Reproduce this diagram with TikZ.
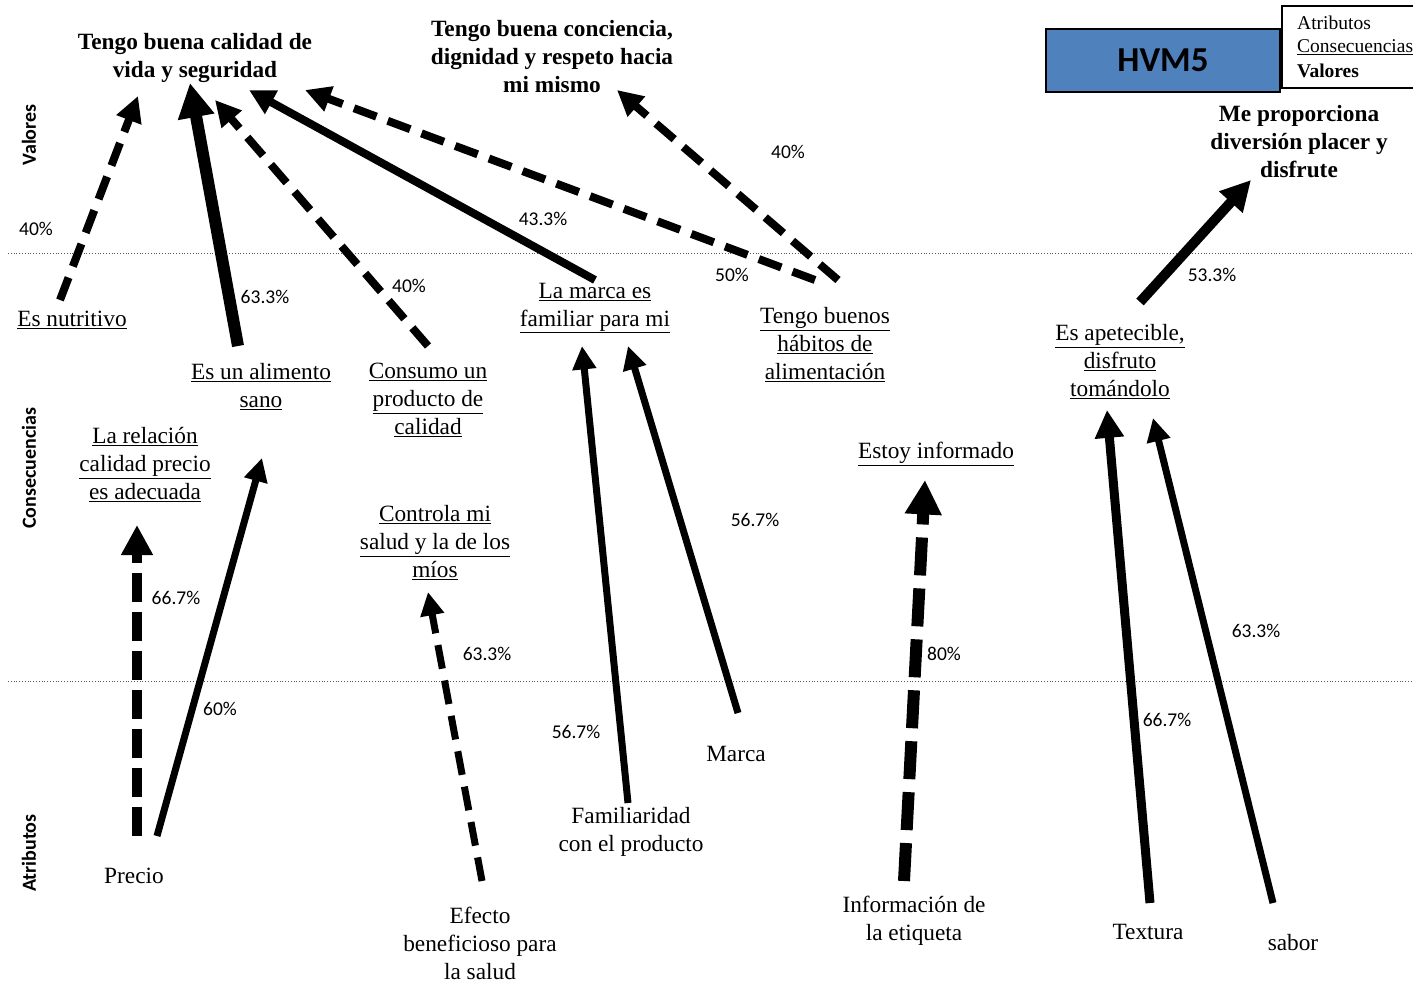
\documentclass[tikz,border=0pt]{standalone}
\usepackage{fontspec}
\setmainfont{Liberation Serif}
\newfontfamily\calib{Carlito}
\usetikzlibrary{arrows.meta}
\definecolor{hvmblue}{RGB}{79,129,189}

\begin{document}
\begin{tikzpicture}[x=1pt,y=-1pt,
  txt/.style={align=center,font=\fontsize{23.3}{28}\selectfont,inner sep=0pt},
  val/.style={align=center,font=\bfseries\fontsize{23.3}{28}\selectfont,inner sep=0pt},
  pct/.style={font=\calib\fontsize{19.5}{22}\selectfont,inner sep=0pt},
  lvl/.style={font=\calib\bfseries\fontsize{20}{22}\selectfont,rotate=90,inner sep=0pt},
  link/.style={line width=#1pt,line cap=butt,-{Triangle[length=8pt 2.2,width=6pt 2.4]}},
  dlink/.style={link=#1,dash pattern=on 24pt off 12pt},
  level/.style={line width=0.8pt,dotted,gray!70!black}
]
\useasboundingbox (0,0) rectangle (1413,982);

% level separators
\coordinate (sepA-l) at (8,253);
\coordinate (sepA-r) at (1413,253);
\coordinate (sepB-l) at (8,681);
\coordinate (sepB-r) at (1413,681);
\draw[level] (sepA-l) -- (sepA-r);
\draw[level] (sepB-l) -- (sepB-r);

% level names
\node[lvl] (lv-val) at (29,135) {Valores};
\node[lvl] (lv-con) at (29,468) {Consecuencias};
\node[lvl] (lv-atr) at (29,853) {Atributos};

% title and legend
\node[draw=black,line width=1.5pt,fill=hvmblue,minimum width=234pt,minimum height=63pt,
      font=\calib\bfseries\fontsize{35}{38}\selectfont,inner sep=0pt] (title) at (1163,60.5) {HVM5};
\draw[line width=1.5pt] (1282,6) rectangle (1430,88);
\node[anchor=west,inner sep=0pt,font=\fontsize{19.5}{24}\selectfont] (lg-a) at (1297,23) {Atributos};
\node[anchor=west,inner sep=0pt,font=\fontsize{19.5}{24}\selectfont] (lg-c) at (1297,47) {\underline{Consecuencias}};
\node[anchor=west,inner sep=0pt,font=\bfseries\fontsize{19.5}{24}\selectfont] (lg-v) at (1297,71) {Valores};

% values
\node[val] (v1) at (195,58) {Tengo buena calidad de\\vida y seguridad};
\node[val] (v2) at (552,57) {Tengo buena conciencia,\\dignidad y respeto hacia\\mi mismo};
\node[val] (v3) at (1299,142) {Me proporciona\\diversión placer y\\disfrute};

% consequences
\node[txt] (nutri) at (72,320) {\underline{Es nutritivo}};
\node[txt] (sano) at (261,387) {\underline{Es un alimento}\\\underline{sano}};
\node[txt] (consumo) at (428,400) {\underline{Consumo un}\\\underline{producto de}\\\underline{calidad}};
\node[txt] (famil) at (595,308) {\underline{La marca es}\\\underline{familiar para mi}};
\node[txt] (habitos) at (825,345) {\underline{Tengo buenos}\\\underline{hábitos de}\\\underline{alimentación}};
\node[txt] (apet) at (1120,362) {\underline{Es apetecible,}\\\underline{disfruto}\\\underline{tomándolo}};
\node[txt] (relacion) at (145,465) {\underline{La relación}\\\underline{calidad precio}\\\underline{es adecuada}};
\node[txt] (controla) at (435,543) {\underline{Controla mi}\\\underline{salud y la de los}\\\underline{míos}};
\node[txt] (informado) at (936,454) {\underline{Estoy informado}};

% attributes
\node[txt] (precio) at (134,876) {Precio};
\node[txt] (efecto) at (480,943) {Efecto\\beneficioso para\\la salud};
\node[txt] (familiaridad) at (631,832) {Familiaridad\\con el producto};
\node[txt] (marca) at (736,754) {Marca};
\node[txt] (info) at (914,921) {Información de\\la etiqueta};
\node[txt] (textura) at (1148,932) {Textura};
\node[txt] (sabor) at (1293,943) {sabor};

% connector ends
\coordinate (nutri-o) at (60,300);     \coordinate (v1-a) at (138,96);
\coordinate (sano-o) at (238,346);     \coordinate (v1-b) at (190,83);
\coordinate (consumo-o) at (428,346);  \coordinate (v1-c) at (215,100);
\coordinate (famil-o) at (595,280);    \coordinate (v1-d) at (249,90);
\coordinate (habitos-o1) at (815,280); \coordinate (v1-e) at (305,90);
\coordinate (habitos-o2) at (838,280); \coordinate (v2-a) at (617,90);
\coordinate (apet-o) at (1140,302);    \coordinate (v3-a) at (1251,180);
\coordinate (precio-o1) at (137,836);  \coordinate (relacion-i) at (137,525);
\coordinate (precio-o2) at (157,836);  \coordinate (sano-i) at (262,458);
\coordinate (efecto-o) at (482,881);   \coordinate (controla-i) at (428,592);
\coordinate (familiaridad-o) at (628,803); \coordinate (famil-i1) at (582,346);
\coordinate (marca-o) at (738,713);    \coordinate (famil-i2) at (628,346);
\coordinate (info-o) at (904,881);     \coordinate (informado-i) at (925,480);
\coordinate (textura-o) at (1150,903); \coordinate (apet-i1) at (1107,410);
\coordinate (sabor-o) at (1273,903);   \coordinate (apet-i2) at (1153,418);

% consequence -> value links
\draw[dlink=8] (nutri-o) -- (v1-a);
\draw[link=12] (sano-o) -- (v1-b);
\draw[dlink=8] (consumo-o) -- (v1-c);
\draw[link=8] (famil-o) -- (v1-d);
\draw[dlink=8] (habitos-o1) -- (v1-e);
\draw[dlink=8] (habitos-o2) -- (v2-a);
\draw[link=10] (apet-o) -- (v3-a);

% attribute -> consequence links
\draw[link=10,dash pattern=on 29pt off 10pt] (precio-o1) -- (relacion-i);
\draw[link=7] (precio-o2) -- (sano-i);
\draw[dlink=7] (efecto-o) -- (controla-i);
\draw[link=7] (familiaridad-o) -- (famil-i1);
\draw[link=7] (marca-o) -- (famil-i2);
\draw[link=12,dash pattern=on 38pt off 13pt] (info-o) -- (informado-i);
\draw[link=9] (textura-o) -- (apet-i1);
\draw[link=7] (sabor-o) -- (apet-i2);

% percentages
\node[pct] (p1) at (36,229) {40\%};
\node[pct] (p2) at (265,297) {63.3\%};
\node[pct] (p3) at (409,286) {40\%};
\node[pct] (p4) at (543,219) {43.3\%};
\node[pct] (p5) at (732,275) {50\%};
\node[pct] (p6) at (788,152) {40\%};
\node[pct] (p7) at (1212,275) {53.3\%};
\node[pct] (p8) at (176,598) {66.7\%};
\node[pct] (p9) at (220,709) {60\%};
\node[pct] (p10) at (487,654) {63.3\%};
\node[pct] (p11) at (576,732) {56.7\%};
\node[pct] (p12) at (755,520) {56.7\%};
\node[pct] (p13) at (944,654) {80\%};
\node[pct] (p14) at (1167,720) {66.7\%};
\node[pct] (p15) at (1256,631) {63.3\%};
\end{tikzpicture}
\end{document}
